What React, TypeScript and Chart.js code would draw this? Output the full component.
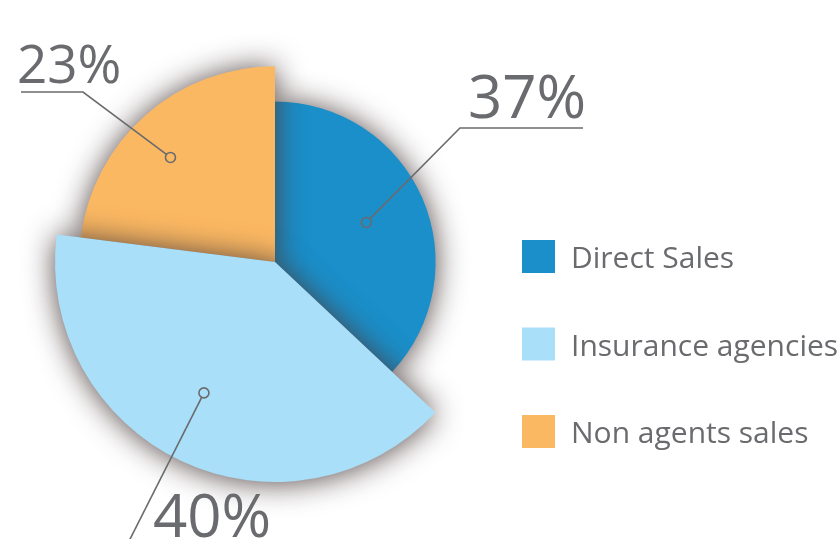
import React, { useEffect, useRef } from "react";
import { Chart, registerables } from "chart.js";

Chart.register(...registerables);

const categories = ["Direct Sales", "Insurance agencies", "Non agents sales"];
const shares = [37, 40, 23];
const shareLabels = ["37%", "40%", "23%"];
const sliceColors = ["#1a8fca", "#a9dff9", "#fbb862"];

// styling (not data)
const sliceRadiusScale = [0.73, 1.0, 0.89];
const drawOrder = [0, 2, 1];
const TEXT = "#6a6b6e";

const labelLayout = [
  { k: 0.62, da: 0, path: [[460, 128], [583, 128]], text: [468, 118], size: 60 },
  { k: 0.677, da: 3.3, path: [[122, 555]], text: [153, 537], size: 60 },
  { k: 0.755, da: -3.6, path: [[83, 92], [21, 92]], text: [17, 83], size: 53 },
];

const customPie = {
  id: "customPie",
  beforeDatasetsDraw(chart: any) {
    const meta = chart.getDatasetMeta(0);
    const area = chart.chartArea;
    const base = Math.min(area.right - area.left, area.bottom - area.top) / 2;
    const ctx = chart.ctx;
    meta.data.forEach((arc: any, i: number) => {
      arc.outerRadius = base * sliceRadiusScale[i];
    });
    for (const i of drawOrder) {
      ctx.save();
      ctx.shadowColor = "rgba(75, 60, 60, 0.95)";
      ctx.shadowBlur = 30;
      ctx.shadowOffsetX = 0;
      ctx.shadowOffsetY = 1;
      meta.data[i].draw(ctx);
      ctx.restore();
    }
    return false;
  },
  afterDraw(chart: any) {
    const meta = chart.getDatasetMeta(0);
    const ctx = chart.ctx;
    ctx.save();
    meta.data.forEach((arc: any, i: number) => {
      const L = labelLayout[i];
      const mid = (arc.startAngle + arc.endAngle) / 2 + (L.da * Math.PI) / 180;
      const r = arc.outerRadius * L.k;
      const cx = arc.x + Math.cos(mid) * r;
      const cy = arc.y + Math.sin(mid) * r;
      const ang = Math.atan2(L.path[0][1] - cy, L.path[0][0] - cx);
      ctx.strokeStyle = TEXT;
      ctx.lineWidth = 1.6;
      ctx.beginPath();
      ctx.moveTo(cx + Math.cos(ang) * 5, cy + Math.sin(ang) * 5);
      L.path.forEach((p) => ctx.lineTo(p[0], p[1]));
      ctx.stroke();
      ctx.beginPath();
      ctx.arc(cx, cy, 5, 0, Math.PI * 2);
      ctx.stroke();
      ctx.fillStyle = TEXT;
      ctx.font = `${L.size}px "Open Sans"`;
      ctx.textAlign = "left";
      ctx.textBaseline = "alphabetic";
      ctx.fillText(shareLabels[i], L.text[0], L.text[1]);
    });
    // legend
    categories.forEach((c, i) => {
      const y = 240 + i * 87.5;
      ctx.fillStyle = sliceColors[i];
      ctx.fillRect(522, y, 33, 33);
      ctx.fillStyle = TEXT;
      ctx.font = '30px "Open Sans"';
      ctx.textBaseline = "alphabetic";
      ctx.fillText(c, 571, 268 + i * 87.5);
    });
    ctx.restore();
  },
};

export default function App() {
  const ref = useRef<HTMLCanvasElement>(null);
  useEffect(() => {
    document.body.style.margin = "0";
    const chart = new Chart(ref.current as HTMLCanvasElement, {
      type: "pie",
      data: {
        labels: categories,
        datasets: [
          {
            data: shares,
            backgroundColor: sliceColors,
            borderWidth: 0,
          },
        ],
      },
      options: {
        animation: false,
        responsive: true,
        maintainAspectRatio: false,
        events: [],
        layout: { padding: { left: 55, right: 343, top: 42, bottom: 57 } },
        plugins: {
          legend: { display: false },
          tooltip: { enabled: false },
        },
      },
      plugins: [customPie],
    });
    return () => chart.destroy();
  }, []);
  return (
    <div style={{ position: "fixed", left: 0, top: 0, width: 838, height: 539, background: "#fff" }}>
      <canvas ref={ref} />
    </div>
  );
}
